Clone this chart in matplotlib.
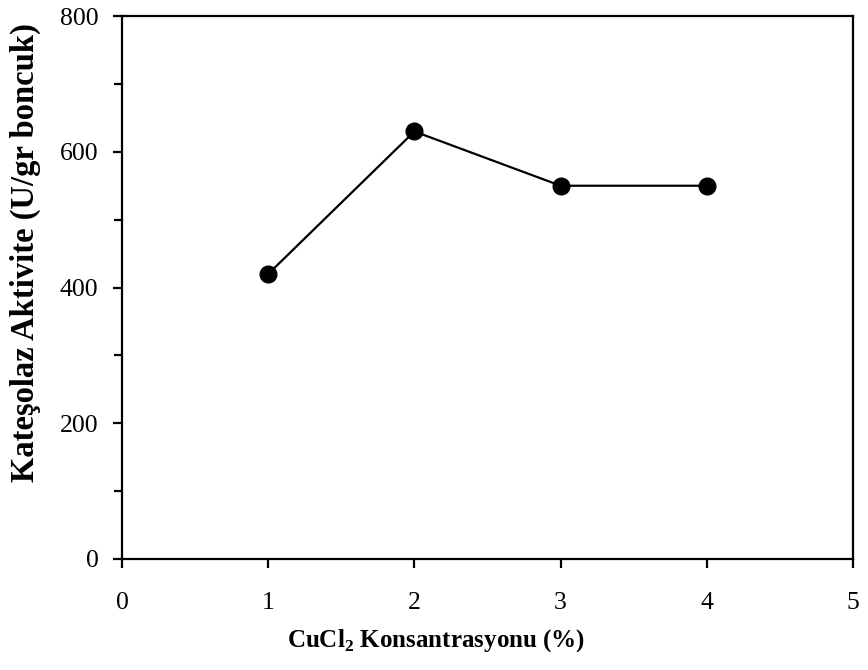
import matplotlib
matplotlib.use("Agg")
import matplotlib.pyplot as plt
from matplotlib.ticker import MultipleLocator

plt.rcParams["font.family"] = ["Liberation Serif", "DejaVu Serif"]
plt.rcParams["mathtext.fontset"] = "custom"
plt.rcParams["mathtext.rm"] = "Liberation Serif"
plt.rcParams["mathtext.bf"] = "Liberation Serif:bold"

# CuCl2 concentration (%) vs catechol oxidase activity
concentration = [1, 2, 3, 4]
activity = [420, 630, 550, 550]

fig = plt.figure(figsize=(8.68, 6.7), dpi=100)
ax = fig.add_axes([0.1406, 0.1657, 0.8421, 0.8103])

ax.plot(concentration, activity, color="black", linewidth=1.6,
        marker="o", markersize=12, markerfacecolor="black")

ax.set_xlim(0, 5)
ax.set_ylim(0, 800)
ax.xaxis.set_major_locator(MultipleLocator(1))
ax.yaxis.set_major_locator(MultipleLocator(200))
ax.yaxis.set_minor_locator(MultipleLocator(100))

for s in ax.spines.values():
    s.set_linewidth(1.6)
ax.tick_params(which="both", direction="out", width=1.6, labelsize=18.5)
ax.tick_params(which="major", length=6.5)
ax.tick_params(which="minor", length=5.5)
ax.tick_params(axis="y", which="major", pad=10.5)
ax.tick_params(axis="x", which="major", pad=17)

# axis titles placed in figure coords
fig.text(436 / 868, 1 - 641 / 670, r"CuCl$_\mathbf{2}$ Konsantrasyonu (%)",
         fontsize=18, fontweight="bold", ha="center", va="center")
fig.text(25 / 868, 1 - 253 / 670, "Kateşolaz Aktivite (U/gr boncuk)",
         fontsize=23.5, fontweight="bold", ha="center", va="center",
         rotation=90)

fig.savefig("out.png", dpi=100)
